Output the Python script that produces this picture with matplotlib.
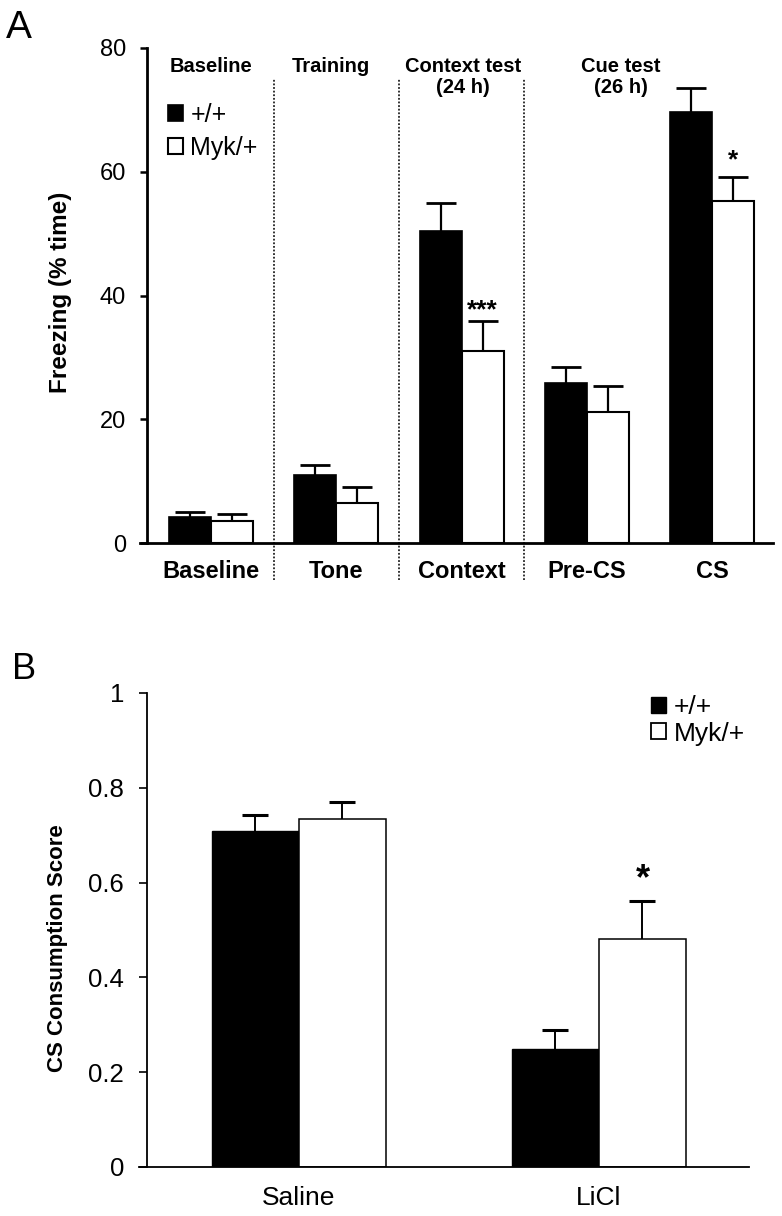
import numpy as np
import matplotlib
matplotlib.use("Agg")
import matplotlib.pyplot as plt
from matplotlib.patches import Patch

plt.rcParams['font.family'] = ['Liberation Sans', 'DejaVu Sans']

# Panel A: fear conditioning, freezing (% time)
phases = ["Baseline", "Tone", "Context", "Pre-CS", "CS"]
wt_freeze = [4.2, 11.0, 50.5, 25.9, 69.6]
wt_freeze_err = [0.8, 1.6, 4.4, 2.6, 4.0]
myk_freeze = [3.6, 6.5, 31.1, 21.2, 55.2]
myk_freeze_err = [1.1, 2.6, 4.8, 4.2, 4.0]
section_titles = ["Baseline", "Training", "Context test\n(24 h)", "Cue test\n(26 h)"]
section_x = [0, 0.96, 2.01, 3.27]
yticks_a = [0, 20, 40, 60, 80]

# Panel B: taste aversion, CS consumption score
treatments = ["Saline", "LiCl"]
wt_cs = [0.709, 0.248]
wt_cs_err = [0.034, 0.040]
myk_cs = [0.735, 0.482]
myk_cs_err = [0.036, 0.080]
yticks_b = [0, 0.2, 0.4, 0.6, 0.8, 1]
yticklabels_b = ["0", "0.2", "0.4", "0.6", "0.8", "1"]

legend_labels = ["+/+", "Myk/+"]

W, H = 782, 1216
fig = plt.figure(figsize=(W / 100, H / 100), dpi=100)


def upper_err(ax, xs, ys, errs, lw, cap, capw):
    # one-sided (upward) error bars, lower cap hidden
    _, caps, _ = ax.errorbar(xs, ys, yerr=[np.zeros(len(xs)), errs], fmt='none',
                             ecolor='black', elinewidth=lw, capsize=cap, capthick=capw, zorder=3)
    caps[0].set_visible(False)


# ---------------- panel A ----------------
axA = fig.add_axes([140 / W, 1 - 543 / H, 633 / W, 495 / H])
x = np.arange(len(phases))
w = 0.335
axA.bar(x - w / 2, wt_freeze, w, color='black', edgecolor='black', lw=1.2, zorder=2)
axA.bar(x + w / 2, myk_freeze, w, color='white', edgecolor='black', lw=1.5, zorder=2)
upper_err(axA, x - w / 2, wt_freeze, wt_freeze_err, 1.6, 10.5, 2)
upper_err(axA, x + w / 2, myk_freeze, myk_freeze_err, 1.6, 10.5, 2)

# dotted separators between sessions
for xs in [0.5, 1.5, 2.5]:
    axA.plot([xs, xs], [-6, 75], ls=(0, (1, 1)), lw=1.3, color='#222222', clip_on=False)

for tx, t in zip(section_x, section_titles):
    axA.text(tx, 78.6, t, ha='center', va='top', fontsize=14.5, fontweight='bold', linespacing=1.15)

axA.text(2 + w / 2, 37.6, "***", ha='center', va='center', fontsize=19, fontweight='bold')
axA.text(4 + w / 2, 61.8, "*", ha='center', va='center', fontsize=19, fontweight='bold')

axA.set_xlim(-0.567, 4.485)
axA.set_ylim(0, 80)
axA.spines['left'].set_position(('data', -0.511))
axA.spines['top'].set_visible(False)
axA.spines['right'].set_visible(False)
axA.spines['left'].set_linewidth(2)
axA.spines['bottom'].set_linewidth(2)
axA.set_yticks(yticks_a)
axA.set_xticks(x)
axA.set_xticklabels(phases, fontsize=17, fontweight='bold')
axA.tick_params(axis='x', length=0, pad=12)
axA.tick_params(axis='y', length=5, width=1.8, labelsize=17, pad=10)

fig.text(61 / W, 1 - 292 / H, "Freezing (% time)", rotation=90, ha='center', va='center',
         fontsize=17.5, fontweight='bold')

handles = [Patch(facecolor='black', edgecolor='black', lw=1.2),
           Patch(facecolor='white', edgecolor='black', lw=1.5)]
axA.legend(handles, legend_labels, loc='upper left', bbox_to_anchor=(168 / W, 1 - 103 / H),
           bbox_transform=fig.transFigure, frameon=False, fontsize=18, handlelength=0.6,
           handleheight=0.6, handletextpad=0.3, labelspacing=0.35, borderpad=0, borderaxespad=0)

fig.text(6 / W, 1 - 38 / H, "A", fontsize=28, ha='left', va='baseline')

# ---------------- panel B ----------------
axB = fig.add_axes([139 / W, 1 - 1167 / H, 610 / W, 474 / H])
xb = np.arange(len(treatments))
wb = 0.29
axB.bar(xb - wb / 2, wt_cs, wb, color='black', edgecolor='black', lw=1.0, zorder=2)
axB.bar(xb + wb / 2, myk_cs, wb, color='white', edgecolor='black', lw=1.1, zorder=2)
upper_err(axB, xb - wb / 2, wt_cs, wt_cs_err, 1.4, 9.6, 2.2)
upper_err(axB, xb + wb / 2, myk_cs, myk_cs_err, 1.4, 9.6, 2.2)

axB.text(1 + wb / 2, 0.606, "*", ha='center', va='center', fontsize=26, fontweight='bold')

axB.set_xlim(-0.533, 1.5)
axB.set_ylim(0, 1)
axB.spines['left'].set_position(('data', -0.507))
axB.spines['top'].set_visible(False)
axB.spines['right'].set_visible(False)
axB.spines['left'].set_linewidth(1.3)
axB.spines['bottom'].set_linewidth(1.3)
axB.set_yticks(yticks_b)
axB.set_yticklabels(yticklabels_b)
axB.set_xticks(xb)
axB.set_xticklabels(treatments, fontsize=19)
axB.tick_params(axis='x', length=0, pad=14)
axB.tick_params(axis='y', length=5.5, width=1.2, labelsize=18.5, pad=11)

fig.text(57 / W, 1 - 948 / H, "CS Consumption Score", rotation=90, ha='center', va='center',
         fontsize=16, fontweight='bold')

handles_b = [Patch(facecolor='black', edgecolor='black', lw=1.0),
             Patch(facecolor='white', edgecolor='black', lw=1.3)]
axB.legend(handles_b, legend_labels, loc='upper left', bbox_to_anchor=(651 / W, 1 - 695 / H),
           bbox_transform=fig.transFigure, frameon=False, fontsize=19, handlelength=0.57,
           handleheight=0.57, handletextpad=0.3, labelspacing=0.1, borderpad=0, borderaxespad=0)

fig.text(12 / W, 1 - 679 / H, "B", fontsize=26, ha='left', va='baseline')

fig.savefig("out.png", dpi=100)
